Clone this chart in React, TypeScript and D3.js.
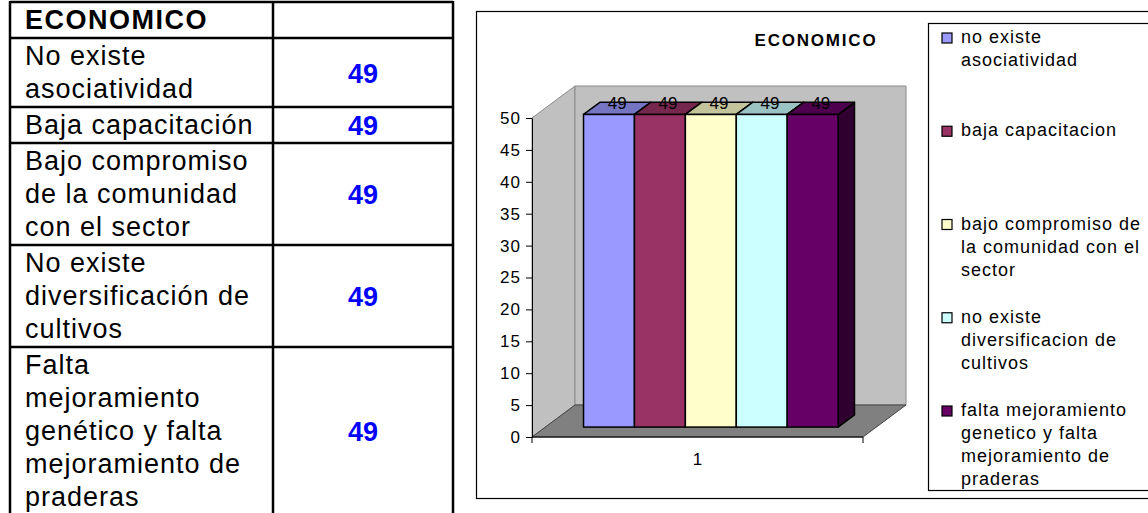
import React, { useEffect, useRef } from 'react';
import * as d3 from 'd3';

// table on the left
const tableTitle = 'ECONOMICO';
const tableLabels: string[][] = [
  ['No existe', 'asociatividad'],
  ['Baja capacitación'],
  ['Bajo compromiso', 'de la comunidad', 'con el sector'],
  ['No existe', 'diversificación de', 'cultivos'],
  ['Falta', 'mejoramiento', 'genético y falta', 'mejoramiento de', 'praderas'],
];
const tableValues = [49, 49, 49, 49, 49];

// 3d column chart
const chartTitle = 'ECONOMICO';
const categories = ['1'];
const seriesNames: string[][] = [
  ['no existe', 'asociatividad'],
  ['baja capacitacion'],
  ['bajo compromiso de', 'la comunidad con el', 'sector'],
  ['no existe', 'diversificacion de', 'cultivos'],
  ['falta mejoramiento', 'genetico y falta', 'mejoramiento de', 'praderas'],
];
const seriesValues = [49, 49, 49, 49, 49];
const seriesColors = ['#9999ff', '#993366', '#ffffcc', '#ccffff', '#660066'];
const yTicks = [0, 5, 10, 15, 20, 25, 30, 35, 40, 45, 50];

const FONT = "'Liberation Sans', Arial, sans-serif";
const W = 1148;
const H = 513;

const App: React.FC = () => {
  const svgRef = useRef<SVGSVGElement | null>(null);

  useEffect(() => {
    const svg = d3.select(svgRef.current);
    svg.selectAll('*').remove();
    svg.append('rect').attr('width', W).attr('height', H).attr('fill', '#fff');

    drawTable(svg);
    drawChart(svg);
  }, []);

  const drawTable = (svg: d3.Selection<SVGSVGElement | null, unknown, null, undefined>) => {
    const g = svg.append('g').style('font-family', FONT);
    const left = 10, mid = 273, right = 453, lineH = 33;

    const rows = [
      { lines: [tableTitle], value: null as number | null, header: true },
      ...tableLabels.map((lines, i) => ({ lines, value: tableValues[i], header: false })),
    ];

    let top = 2;
    rows.forEach((r) => {
      const h = r.lines.length * lineH + 3;
      g.append('line')
        .attr('x1', left).attr('x2', right)
        .attr('y1', top).attr('y2', top)
        .attr('stroke', '#000').attr('stroke-width', 2.5);

      r.lines.forEach((t, i) => {
        g.append('text')
          .attr('x', left + 15)
          .attr('y', top + 27 + i * lineH)
          .attr('font-size', 27)
          .attr('font-weight', r.header ? 'bold' : 'normal')
          .attr('letter-spacing', r.header ? 1.5 : 1)
          .attr('fill', '#000')
          .text(t);
      });

      if (r.value !== null) {
        g.append('text')
          .attr('x', (mid + right) / 2)
          .attr('y', top + h / 2 + 10)
          .attr('text-anchor', 'middle')
          .attr('font-size', 27)
          .attr('font-weight', 'bold')
          .attr('fill', '#0000ff')
          .text(String(r.value));
      }
      top += h;
    });

    // vertical borders
    [left, mid, right].forEach((x) => {
      g.append('line')
        .attr('x1', x).attr('x2', x)
        .attr('y1', 1).attr('y2', top + 2)
        .attr('stroke', '#000').attr('stroke-width', 2.5);
    });
  };

  const drawChart = (svg: d3.Selection<SVGSVGElement | null, unknown, null, undefined>) => {
    const g = svg.append('g').style('font-family', FONT);

    // chart area frame (runs off the right edge)
    g.append('rect')
      .attr('x', 476.5).attr('y', 11.5)
      .attr('width', 720).attr('height', 487)
      .attr('fill', '#fff').attr('stroke', '#000').attr('stroke-width', 1.2);

    g.append('text')
      .attr('x', 816).attr('y', 46)
      .attr('text-anchor', 'middle')
      .attr('font-size', 17).attr('font-weight', 'bold')
      .attr('letter-spacing', 1.8)
      .text(chartTitle);

    const y = d3.scaleLinear().domain([0, 50]).range([437, 118]);
    const x = d3.scaleBand<string>().domain(categories).range([532, 863]);
    const depthX = 43, depthY = -32;

    const [x0, x1] = x.range();
    const yb = y(0), yt = y(50);

    // walls + floor
    const poly = (pts: [number, number][]) => 'M' + pts.map((p) => p.join(',')).join('L') + 'Z';
    g.append('path')
      .attr('d', poly([[x0, yt], [x0 + depthX, yt + depthY], [x0 + depthX, yb + depthY], [x0, yb]]))
      .attr('fill', '#c0c0c0').attr('stroke', '#8a8a8a');
    g.append('path')
      .attr('d', poly([[x0 + depthX, yt + depthY], [x1 + depthX, yt + depthY], [x1 + depthX, yb + depthY], [x0 + depthX, yb + depthY]]))
      .attr('fill', '#c0c0c0').attr('stroke', '#8a8a8a');
    g.append('path')
      .attr('d', poly([[x0, yb], [x1, yb], [x1 + depthX, yb + depthY], [x0 + depthX, yb + depthY]]))
      .attr('fill', '#808080').attr('stroke', '#444');

    // axes
    const yAxis = g.append('g')
      .attr('transform', `translate(${x0},0)`)
      .call(d3.axisLeft(y).tickValues(yTicks).tickSize(6).tickSizeOuter(0).tickPadding(5));
    yAxis.select('.domain').attr('stroke', '#000');
    yAxis.selectAll('text')
      .attr('font-size', 17).attr('letter-spacing', 1)
      .attr('font-family', FONT).attr('fill', '#000');

    g.append('line')
      .attr('x1', x0).attr('x2', x1).attr('y1', yb).attr('y2', yb)
      .attr('stroke', '#000').attr('stroke-width', 1.2);
    [x0, x1].forEach((xx) => {
      g.append('line')
        .attr('x1', xx).attr('x2', xx).attr('y1', yb).attr('y2', yb + 6)
        .attr('stroke', '#000');
    });
    categories.forEach((c) => {
      g.append('text')
        .attr('x', (x(c) ?? 0) + x.bandwidth() / 2)
        .attr('y', yb + 28)
        .attr('text-anchor', 'middle')
        .attr('font-size', 17)
        .text(c);
    });

    // bars
    const inner = d3.scaleBand<number>()
      .domain(seriesValues.map((_, i) => i))
      .range([0, x.bandwidth()])
      .paddingInner(0)
      .paddingOuter(0.75);
    const frontT = 0.31, barT = 0.38;
    const sx = depthX * frontT, sy = depthY * frontT;
    const bx = depthX * barT, by = depthY * barT;

    categories.forEach((c) => {
      seriesValues.forEach((v, i) => {
        const col = d3.color(seriesColors[i])!;
        const l = (x(c) ?? 0) + (inner(i) ?? 0) + sx;
        const r = l + inner.bandwidth();
        const t = y(v) + sy;
        const b = yb + sy;

        g.append('path')
          .attr('d', poly([[r, t], [r + bx, t + by], [r + bx, b + by], [r, b]]))
          .attr('fill', col.darker(2.2).formatHex())
          .attr('stroke', '#000').attr('stroke-width', 1.5).attr('stroke-linejoin', 'round');
        g.append('path')
          .attr('d', poly([[l, t], [r, t], [r + bx, t + by], [l + bx, t + by]]))
          .attr('fill', col.darker(0.75).formatHex())
          .attr('stroke', '#000').attr('stroke-width', 1.5).attr('stroke-linejoin', 'round');
        g.append('rect')
          .attr('x', l).attr('y', t)
          .attr('width', r - l).attr('height', b - t)
          .attr('fill', seriesColors[i])
          .attr('stroke', '#000').attr('stroke-width', 1.5);

        g.append('text')
          .attr('x', (l + r) / 2 + bx / 2)
          .attr('y', t + by / 2 + 1)
          .attr('text-anchor', 'middle')
          .attr('font-size', 17)
          .attr('fill', '#000')
          .text(String(v));
      });
    });

    // legend
    const lg = g.append('g');
    lg.append('rect')
      .attr('x', 928.5).attr('y', 23.5)
      .attr('width', 400).attr('height', 467)
      .attr('fill', '#fff').attr('stroke', '#000').attr('stroke-width', 1.2);
    const ly = d3.scalePoint<number>()
      .domain(seriesNames.map((_, i) => i))
      .range([43, 416]);
    seriesNames.forEach((lines, i) => {
      const base = ly(i) ?? 0;
      lg.append('rect')
        .attr('x', 942).attr('y', base - 10)
        .attr('width', 10).attr('height', 10)
        .attr('fill', seriesColors[i])
        .attr('stroke', '#000').attr('stroke-width', 1.2);
      lines.forEach((t, j) => {
        lg.append('text')
          .attr('x', 961)
          .attr('y', base + j * 23)
          .attr('font-size', 18)
          .attr('letter-spacing', 1)
          .attr('fill', '#000')
          .text(t);
      });
    });
  };

  return (
    <div style={{ position: 'absolute', left: 0, top: 0, width: W, height: H, overflow: 'hidden' }}>
      <svg ref={svgRef} width={W} height={H} style={{ display: 'block' }}></svg>
    </div>
  );
};

export default App;
